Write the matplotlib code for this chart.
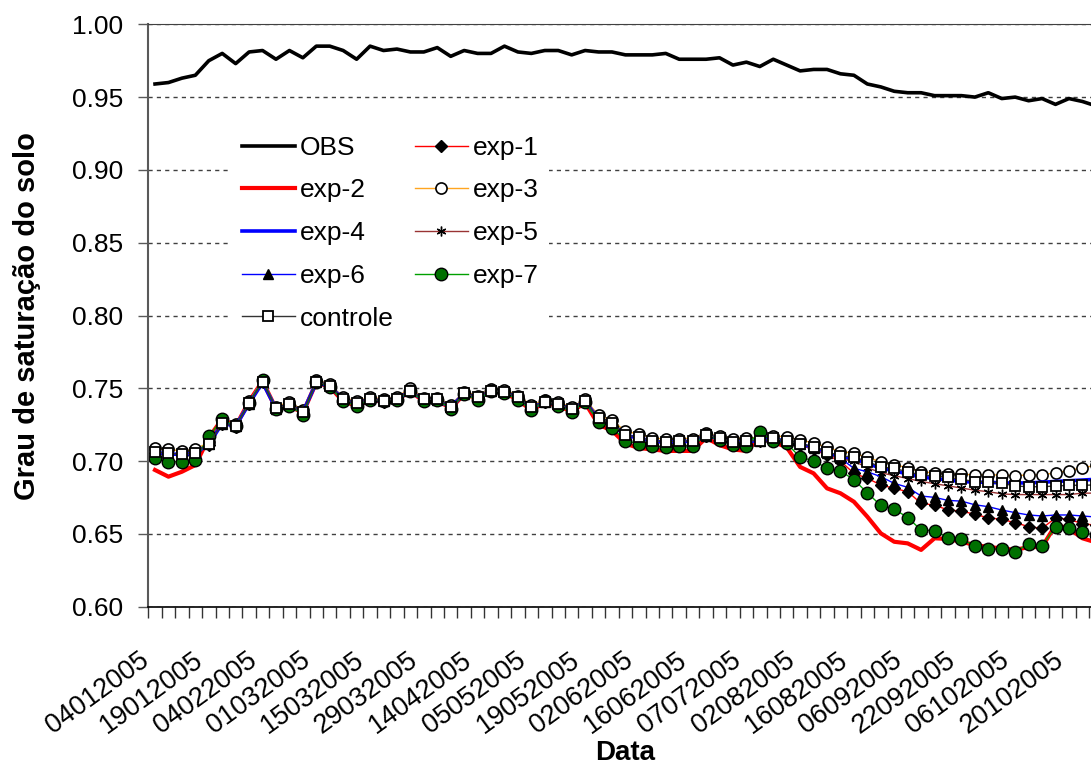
import matplotlib
matplotlib.use('Agg')
import matplotlib.pyplot as plt
import matplotlib.transforms as mtransforms
from matplotlib.ticker import NullFormatter

plt.rcParams['font.family'] = ['Liberation Sans', 'DejaVu Sans']

# datas (uma a cada 4 pontos) usadas como rotulos do eixo x
datas = ['04012005', '19012005', '04022005', '01032005', '15032005', '29032005',
         '14042005', '05052005', '19052005', '02062005', '16062005', '07072005',
         '02082005', '16082005', '06092005', '22092005', '06102005', '20102005']

obs = [0.959, 0.960, 0.963, 0.965, 0.975, 0.980, 0.973, 0.981, 0.982, 0.976,
       0.982, 0.977, 0.985, 0.985, 0.982, 0.976, 0.985, 0.982, 0.983, 0.981,
       0.981, 0.984, 0.978, 0.982, 0.980, 0.980, 0.985, 0.981, 0.980, 0.982,
       0.982, 0.979, 0.982, 0.981, 0.981, 0.979, 0.979, 0.979, 0.980, 0.976,
       0.976, 0.976, 0.977, 0.972, 0.974, 0.971, 0.976, 0.972, 0.968, 0.969,
       0.969, 0.966, 0.965, 0.959, 0.957, 0.954, 0.953, 0.953, 0.951, 0.951,
       0.951, 0.950, 0.953, 0.949, 0.950, 0.9475, 0.949, 0.945, 0.949, 0.947, 0.944]

exp1 = [0.7058, 0.7048, 0.7043, 0.7053, 0.7113, 0.7256, 0.7236, 0.7393, 0.7541, 0.7358,
        0.7386, 0.7331, 0.7541, 0.7513, 0.7423, 0.7393, 0.7423, 0.7408, 0.7425, 0.7480,
        0.7420, 0.7420, 0.7370, 0.7462, 0.7434, 0.7480, 0.7473, 0.7434, 0.7365, 0.7404,
        0.7388, 0.7352, 0.7409, 0.7285, 0.7250, 0.7170, 0.7155, 0.7132, 0.7125, 0.7130,
        0.7130, 0.7172, 0.7150, 0.7125, 0.7132, 0.7135, 0.7148, 0.7128, 0.7110, 0.7080,
        0.7040, 0.7000, 0.6916, 0.6882, 0.6836, 0.6813, 0.6790, 0.6710, 0.6698, 0.6664,
        0.6657, 0.6634, 0.6611, 0.6600, 0.6577, 0.6550, 0.6538, 0.6610, 0.6600, 0.6570, 0.6560]

exp2 = [0.6939, 0.6893, 0.6927, 0.6973, 0.7160, 0.7290, 0.7240, 0.7410, 0.7550, 0.7360,
        0.7380, 0.7330, 0.7540, 0.7510, 0.7410, 0.7380, 0.7420, 0.7410, 0.7420, 0.7480,
        0.7410, 0.7420, 0.7360, 0.7460, 0.7430, 0.7480, 0.7470, 0.7420, 0.7350, 0.7400,
        0.7380, 0.7340, 0.7400, 0.7250, 0.7210, 0.7120, 0.7090, 0.7080, 0.7070, 0.7070,
        0.7070, 0.7160, 0.7110, 0.7080, 0.7070, 0.7160, 0.7133, 0.7095, 0.6960, 0.6916,
        0.6813, 0.6779, 0.6721, 0.6618, 0.6504, 0.6446, 0.6435, 0.6390, 0.6470, 0.6465,
        0.6446, 0.6424, 0.6410, 0.6400, 0.6390, 0.6410, 0.6410, 0.6561, 0.6538, 0.6470, 0.6442]

exp3 = [0.7090, 0.7080, 0.7070, 0.7080, 0.7130, 0.7275, 0.7255, 0.7410, 0.7560, 0.7375,
        0.7405, 0.7350, 0.7555, 0.7530, 0.7440, 0.7410, 0.7440, 0.7425, 0.7440, 0.7500,
        0.7435, 0.7435, 0.7385, 0.7478, 0.7450, 0.7495, 0.7490, 0.7450, 0.7385, 0.7420,
        0.7405, 0.7370, 0.7425, 0.7315, 0.7280, 0.7205, 0.7185, 0.7160, 0.7150, 0.7155,
        0.7155, 0.7190, 0.7170, 0.7155, 0.7160, 0.7160, 0.7175, 0.7165, 0.7145, 0.7125,
        0.7095, 0.7065, 0.7055, 0.7025, 0.6995, 0.6975, 0.6955, 0.6925, 0.6920, 0.6910,
        0.6910, 0.6905, 0.6905, 0.6905, 0.6900, 0.6905, 0.6905, 0.6920, 0.6935, 0.6955, 0.6970]

exp4 = [0.7060, 0.7050, 0.7045, 0.7055, 0.7115, 0.7260, 0.7240, 0.7395, 0.7540, 0.7360,
        0.7385, 0.7335, 0.7540, 0.7515, 0.7425, 0.7395, 0.7425, 0.7410, 0.7425, 0.7480,
        0.7420, 0.7420, 0.7370, 0.7465, 0.7435, 0.7480, 0.7475, 0.7435, 0.7365, 0.7405,
        0.7390, 0.7355, 0.7410, 0.7290, 0.7255, 0.7175, 0.7160, 0.7135, 0.7130, 0.7135,
        0.7135, 0.7175, 0.7155, 0.7130, 0.7135, 0.7140, 0.7155, 0.7135, 0.7115, 0.7090,
        0.7055, 0.7025, 0.7015, 0.6985, 0.6950, 0.6935, 0.6910, 0.6890, 0.6880, 0.6870,
        0.6860, 0.6855, 0.6855, 0.6850, 0.6850, 0.6850, 0.6855, 0.6860, 0.6865, 0.6870, 0.6875]

exp5 = [0.7062, 0.7050, 0.7045, 0.7056, 0.7115, 0.7258, 0.7238, 0.7395, 0.7543, 0.7360,
        0.7388, 0.7333, 0.7543, 0.7515, 0.7425, 0.7395, 0.7425, 0.7410, 0.7427, 0.7482,
        0.7422, 0.7422, 0.7372, 0.7464, 0.7436, 0.7482, 0.7475, 0.7436, 0.7367, 0.7406,
        0.7390, 0.7354, 0.7411, 0.7290, 0.7256, 0.7176, 0.7160, 0.7137, 0.7130, 0.7135,
        0.7135, 0.7176, 0.7154, 0.7130, 0.7136, 0.7138, 0.7152, 0.7132, 0.7110, 0.7085,
        0.7050, 0.7015, 0.7000, 0.6955, 0.6920, 0.6900, 0.6880, 0.6860, 0.6845, 0.6830,
        0.6815, 0.6800, 0.6790, 0.6775, 0.6770, 0.6770, 0.6770, 0.6770, 0.6770, 0.6780, 0.6780]

exp6 = [0.7060, 0.7050, 0.7045, 0.7055, 0.7115, 0.7258, 0.7238, 0.7395, 0.7543, 0.7360,
        0.7388, 0.7333, 0.7543, 0.7515, 0.7425, 0.7395, 0.7425, 0.7410, 0.7427, 0.7482,
        0.7422, 0.7422, 0.7372, 0.7464, 0.7436, 0.7482, 0.7475, 0.7436, 0.7367, 0.7406,
        0.7390, 0.7354, 0.7411, 0.7288, 0.7254, 0.7174, 0.7158, 0.7135, 0.7128, 0.7133,
        0.7133, 0.7175, 0.7152, 0.7128, 0.7135, 0.7137, 0.7150, 0.7130, 0.7115, 0.7090,
        0.7055, 0.7020, 0.6950, 0.6927, 0.6893, 0.6847, 0.6820, 0.6760, 0.6751, 0.6730,
        0.6725, 0.6700, 0.6687, 0.6664, 0.6646, 0.6630, 0.6623, 0.6630, 0.6630, 0.6623, 0.6616]

exp7 = [0.7020, 0.6996, 0.6996, 0.7008, 0.7170, 0.7287, 0.7240, 0.7400, 0.7555, 0.7360,
        0.7380, 0.7320, 0.7545, 0.7510, 0.7410, 0.7380, 0.7420, 0.7410, 0.7420, 0.7480,
        0.7410, 0.7420, 0.7360, 0.7460, 0.7420, 0.7480, 0.7470, 0.7420, 0.7350, 0.7410,
        0.7380, 0.7340, 0.7405, 0.7270, 0.7230, 0.7140, 0.7120, 0.7105, 0.7095, 0.7105,
        0.7105, 0.7180, 0.7145, 0.7110, 0.7105, 0.7202, 0.7138, 0.7122, 0.7026, 0.7003,
        0.6950, 0.6932, 0.6873, 0.6781, 0.6696, 0.6671, 0.6612, 0.6527, 0.6522, 0.6474,
        0.6465, 0.6417, 0.6396, 0.6396, 0.6378, 0.6431, 0.6417, 0.6550, 0.6538, 0.6510, 0.6490]

controle = [0.7065, 0.7053, 0.7047, 0.7058, 0.7117, 0.7260, 0.7240, 0.7397, 0.7545, 0.7363,
            0.7390, 0.7335, 0.7545, 0.7518, 0.7427, 0.7397, 0.7427, 0.7413, 0.7429, 0.7484,
            0.7424, 0.7424, 0.7374, 0.7466, 0.7438, 0.7484, 0.7477, 0.7438, 0.7369, 0.7408,
            0.7392, 0.7356, 0.7413, 0.7294, 0.7260, 0.7180, 0.7163, 0.7140, 0.7133, 0.7138,
            0.7138, 0.7180, 0.7157, 0.7133, 0.7140, 0.7140, 0.7157, 0.7140, 0.7120, 0.7099,
            0.7065, 0.7035, 0.7030, 0.6996, 0.6961, 0.6950, 0.6927, 0.6905, 0.6897, 0.6889,
            0.6875, 0.6859, 0.6859, 0.6847, 0.6829, 0.6824, 0.6824, 0.6829, 0.6834, 0.6834, 0.6836]

yticks = [0.60, 0.65, 0.70, 0.75, 0.80, 0.85, 0.90, 0.95, 1.00]

W, H = 1091, 766
fig = plt.figure(figsize=(W / 100, H / 100), dpi=100)
# eixo categorico: cada ponto ocupa uma faixa de largura 1, o grafico segue alem da borda direita
ax = fig.add_axes([148.3 / W, 1 - 606.7 / H, 72 * 13.44 / W, (606.7 - 24.3) / H])

x = [i + 0.5 for i in range(len(obs))]

ax.plot(x, obs, color='black', lw=2.6, label='OBS')
ax.plot(x, exp1, color='red', lw=1, marker='D', ms=6, mfc='black', mec='black', label='exp-1')
ax.plot(x, exp2, color='red', lw=3, label='exp-2')
ax.plot(x, exp3, color='#FFA520', lw=1, marker='o', ms=8, mfc='white', mec='black', mew=1.2, label='exp-3')
ax.plot(x, exp4, color='blue', lw=2.6, label='exp-4')
ax.plot(x, exp5, color='#993333', lw=1, marker=(6, 2, 0), ms=7, mec='black', label='exp-5')
ax.plot(x, exp6, color='blue', lw=1, marker='^', ms=7, mfc='black', mec='black', label='exp-6')
ax.plot(x, exp7, color='#00A000', lw=1, marker='o', ms=9, mfc='#007000', mec='black', mew=1, label='exp-7')
ax.plot(x, controle, color='#333333', lw=1, marker='s', ms=7.5, mfc='white', mec='black', mew=1.3, label='controle')

ax.set_xlim(0, 72)
ax.set_ylim(0.6, 1.0)

ax.set_yticks(yticks)
ax.set_yticklabels(['%.2f' % v for v in yticks])
ax.yaxis.grid(True, linestyle=(0, (3, 3)), color='#404040', lw=1)
ax.set_axisbelow(True)
ax.tick_params(axis='y', length=7, width=1, color='#595959', pad=11, labelsize=19)

# marcas nas divisas das categorias, rotulos no centro
ax.set_xticks(range(0, 73))
ax.xaxis.set_major_formatter(NullFormatter())
ax.set_xticks([4 * k + 0.5 for k in range(len(datas))], datas, minor=True)
ax.tick_params(axis='x', which='major', length=8, width=1, color='#333333', direction='out')
ax.tick_params(axis='x', which='minor', length=0, pad=29, labelsize=19.5)
shift = mtransforms.ScaledTranslation(-16 / 100, 0, fig.dpi_scale_trans)
for lbl in ax.get_xticklabels(minor=True):
    lbl.set_rotation(36)
    lbl.set_ha('right')
    lbl.set_va('top')
    lbl.set_rotation_mode('anchor')
    lbl.set_transform(lbl.get_transform() + shift)

ax.spines['left'].set_color('#595959')
ax.spines['left'].set_linewidth(1.5)
ax.spines['top'].set_color('#404040')
ax.spines['bottom'].set_color('black')
ax.spines['bottom'].set_linewidth(1.2)

fig.text(27 / W, 1 - 316 / H, 'Grau de saturação do solo', rotation=90,
         fontsize=21, fontweight='bold', ha='center', va='center')
fig.text(625 / W, 1 - 753 / H, 'Data', fontsize=20, fontweight='bold', ha='center', va='center')

handles, labels = ax.get_legend_handles_labels()
order = [0, 2, 4, 6, 8, 1, 3, 5, 7]
leg = fig.legend([handles[i] for i in order], [labels[i] for i in order], ncol=2,
                 loc='upper left', bbox_to_anchor=(218 / W, 1 - 112 / H), fontsize=19,
                 frameon=True, fancybox=False, handlelength=2.0, handletextpad=0.2,
                 columnspacing=0.8, labelspacing=0.71, borderpad=0.4)
leg.get_frame().set_edgecolor('none')
leg.get_frame().set_facecolor('white')
leg.get_frame().set_alpha(1)

fig.savefig('out.png', dpi=100)
